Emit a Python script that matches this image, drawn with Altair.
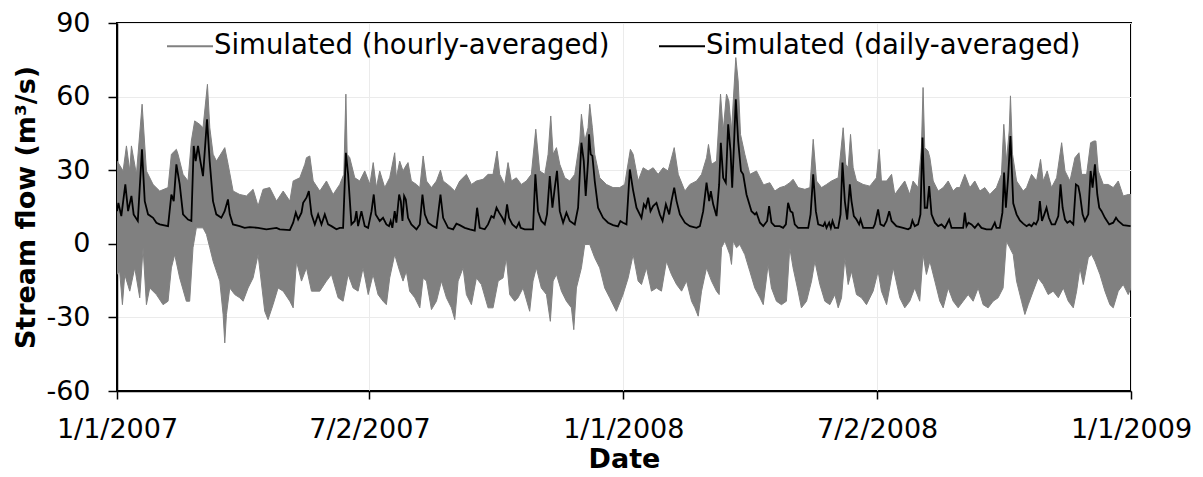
import altair as alt
import pandas as pd

HOURLY = "Simulated (hourly-averaged)"
DAILY = "Simulated (daily-averaged)"

# ---- daily-averaged series (days after 1/1/2007, m3/s) ----
daily_days = [
    0, 1, 3.1, 6, 8, 10.4, 12, 15, 18, 20,
    22.4, 26, 28.4, 30.8, 36.8, 39.2, 40.9, 42.8, 45.2, 47.6,
    51.2, 53.6, 55.3, 56.7, 58.4, 60.1, 62, 64.9, 66.8, 69.2,
    71.6, 75.2, 77.6, 80, 81.3, 83.6, 88.4, 92, 95.7, 101.7,
    107.7, 115, 117.3, 124.6, 127, 128.9, 130.6, 133, 134.2, 136.6,
    138.3, 140.2, 142.6, 145, 147.4, 149.8, 152.2, 154.6, 158.2, 160.6,
    163, 165, 166.6, 169, 171.4, 172.6, 173.8, 176.2, 178.6, 181,
    183.5, 185.1, 186.5, 189.4, 191.8, 194.2, 196.1, 197.3, 198.5, 200.2,
    201.4, 203.4, 204.6, 205.8, 207, 208.2, 209.8, 212.2, 215.9, 218.3,
    220.2, 221.9, 224.3, 227.9, 230.3, 233.2, 235.1, 238.7, 242.3, 244.7,
    247.1, 250.7, 254.3, 257.9, 259.6, 261.5, 265.1, 267.5, 269.9, 271.6,
    273.6, 275.5, 277.8, 279.5, 281.2, 282.6, 285, 287.9, 289.8, 291,
    293.9, 297.5, 299.9, 301.6, 303.5, 305.9, 308.4, 310, 312, 313.9,
    315.6, 317.2, 319.2, 321.6, 324, 326.4, 330, 332.4, 334.8, 336.5,
    337.9, 339.6, 340.3, 341.5, 342.7, 344.4, 346.8, 350.4, 354, 357.6,
    361.2, 362.9, 364.8, 367.3, 369.7, 372, 374.5, 378.1, 379.8, 381.2,
    382.9, 384.6, 386.5, 388.9, 391.3, 393.3, 395.7, 398.1, 399.7, 401.7,
    403.4, 405.8, 409.4, 413, 417.8, 420.2, 422.6, 425, 426.9, 428.1,
    429.8, 432.2, 434.1, 435.3, 437, 438.9, 440.6, 442.3, 443.5, 444.7,
    446.1, 447.8, 449.8, 451.4, 453.8, 457.4, 459.9, 461, 463.5, 465.9,
    468.7, 470.1, 471.8, 474.2, 477.8, 480.2, 482.2, 483.8, 485.5, 487,
    488.6, 491, 494.7, 498.3, 500, 501.9, 503.8, 505.5, 509.1, 510.3,
    511.5, 513.4, 514.6, 515.8, 517.5, 519.9, 521.6, 523, 524.7, 526.4,
    528.3, 529.5, 531.2, 533.1, 535, 536, 537.9, 541.5, 545.1, 546.3,
    548.7, 550.4, 552.8, 554.8, 556.7, 558.4, 561.9, 566.7, 570.3, 572,
    573.4, 575.1, 577.5, 579.2, 580.7, 582.3, 584, 585.5, 587.2, 589.6,
    592, 594.4, 596.8, 599.9, 601.6, 605.2, 607.6, 610, 611.2, 612.4,
    613.8, 616, 618.4, 620.8, 623.2, 626.8, 630.4, 632.8, 634, 636.4,
    638.3, 639.5, 640.8, 642.4, 644.1, 646.1, 648.5, 650.9, 653.3, 655.7,
    657.6, 659.3, 661, 662.5, 664.1, 665.3, 666.8, 668.5, 670.1, 671.8,
    673.8, 676.2, 678.6, 680.2, 681.7, 683.4, 685.1, 687, 689.4, 691.3,
    693, 694.2, 696.1, 697.8, 700.2, 701.9, 703.3, 705, 706.7, 708.1,
    709.8, 712.2, 715.3, 718.2, 720.2, 721.8, 725.4, 730.7,
]
daily_flow = [
    13.3, 16.7, 11.3, 24.2, 13.3, 19.5, 12, 9.3, 38.5, 17.4,
    12, 10.6, 8.6, 7.9, 7.2, 20.1, 17.4, 32.4, 24.2, 12,
    9.9, 9.3, 39.9, 33.7, 39.9, 33.7, 27.6, 50.7, 33.7, 17.4,
    12, 10.6, 13.3, 18.1, 12, 7.9, 7.2, 6.5, 6.8, 6.5,
    5.9, 6.5, 5.9, 5.6, 8.6, 12.7, 9.9, 12.7, 16.7, 18.8,
    21.5, 12, 7.9, 12, 7.9, 12, 7.9, 7.2, 5.9, 6.5,
    6.5, 37.1, 28.3, 7.9, 9.3, 13.3, 7.2, 13.3, 7.2, 6.5,
    13.3, 20.1, 12, 9.3, 10.6, 7.9, 7.2, 9.3, 6.5, 13.3,
    8.6, 20.1, 17.4, 9.3, 19.5, 18.1, 10.6, 7.9, 5.9, 7.9,
    20.1, 12, 8.6, 7.2, 6.5, 20.1, 10.6, 6.5, 5.9, 8.2,
    7.6, 6.5, 5.9, 5.4, 14.7, 6.5, 5.9, 7.9, 11.3, 10.6,
    14.7, 12.7, 10.6, 8.6, 16.1, 10.6, 7.9, 6.5, 8.6, 6.5,
    5.9, 5.9, 5.9, 28.3, 13.3, 9.3, 7.9, 12, 27.6, 14.7,
    22.9, 29.7, 13.3, 8.6, 12.7, 9.3, 7.9, 14.7, 41.2, 33.7,
    19.5, 33.7, 44.6, 36.5, 35.8, 25.6, 14.7, 10.6, 8.6, 7.6,
    7.1, 9.3, 8.6, 7.9, 30.3, 22, 14.7, 10.6, 16.1, 14.7,
    18.8, 13.3, 15.4, 16.7, 12, 9.3, 16.1, 12, 17.4, 22.9,
    17.4, 12, 8.6, 7.2, 6.5, 7.2, 13.3, 24.9, 17.4, 21.5,
    16.1, 11.3, 24.2, 41.2, 26.9, 24.9, 48.7, 37.8, 22.9, 39.2,
    58.9, 41.9, 29.7, 28.3, 20.1, 13.3, 12, 12.7, 8.6, 7.2,
    9.3, 15.4, 8.6, 7.2, 7.2, 6.5, 7.9, 16.7, 13.3, 12.7,
    7.9, 6.5, 6.5, 6.5, 12, 28.3, 13.3, 7.9, 7.2, 8.6,
    6.5, 8.6, 6.5, 9.3, 6.5, 6.5, 12, 33.1, 17.4, 9.9,
    24.2, 17.4, 11.3, 9.9, 7.9, 9.9, 6.5, 6.5, 6.5, 7.9,
    14, 7.9, 7.2, 9.3, 13.3, 9.3, 7.2, 6.5, 5.9, 6.5,
    9.5, 7.2, 7.9, 12, 43.3, 14.7, 14.7, 23.5, 12, 8.6,
    7.2, 7.9, 6.5, 9.9, 6.5, 6.5, 6.5, 6.5, 12.7, 7.2,
    8.6, 7.9, 6.5, 8.2, 6.5, 5.9, 5.9, 8.6, 6.5, 6.5,
    12.7, 29, 14.7, 26.9, 43.9, 16.5, 12, 9.5, 8.2, 7.2,
    7.9, 7.2, 8.6, 7.9, 9.9, 17.4, 9.3, 12, 14.7, 10.6,
    7.9, 7.9, 11.3, 24.2, 14.7, 9.9, 8.6, 9.3, 7.9, 24.2,
    23.5, 20.1, 12, 9.3, 12, 29.7, 22.9, 32.4, 20.1, 14.7,
    13.3, 10.6, 7.9, 8.6, 10.6, 9.3, 7.6, 7.2,
]

# ---- hourly-averaged series: upper envelope ----
upper_days = [
    0, 0.75, 4.4, 6.8, 9.2, 10.4, 14, 18.1, 21.2, 26,
    30.8, 36.8, 39.2, 42.8, 44, 47.6, 51.2, 53.6, 56, 59.6,
    62, 65.2, 66.9, 69.3, 71.7, 77.7, 80.1, 83.7, 88.5, 93.3,
    98.1, 101.7, 105.3, 110.1, 115, 119.8, 124.6, 127, 131.8, 135.4,
    136.6, 139, 141.4, 146.2, 151, 155.8, 160.6, 163.5, 165, 165.9,
    167.8, 171.4, 175, 178.6, 182.3, 184.7, 187, 189.4, 193, 196.6,
    200.2, 201.4, 203.8, 206.2, 208.2, 209.8, 212.2, 215.9, 218.3, 220.7,
    223.1, 226.7, 230.3, 233.2, 235.1, 239.9, 243.5, 247.1, 251.9, 255.5,
    259.1, 263.9, 267.5, 271.1, 274, 275.9, 279.5, 281.9, 284.3, 287.9,
    291.5, 295.1, 298.7, 301.9, 304.7, 308.4, 310.8, 312.7, 314.4, 316.8,
    319.2, 322.8, 326.4, 330, 333.6, 334.8, 337.2, 339.6, 340.8, 342.7,
    344.4, 348, 352.8, 357.6, 362.4, 366, 370.1, 372.1, 375.7, 379.3,
    382.9, 386.5, 390.1, 393.7, 397.3, 401.7, 404.6, 409.4, 413, 417.8,
    421.4, 425, 426.4, 428.6, 432.2, 435.1, 437, 439.4, 441.1, 443,
    446.1, 447.8, 449.5, 452.6, 456.2, 461, 465.9, 467, 470.6, 474.2,
    477.8, 481.4, 485, 487.4, 491, 495.9, 499.5, 501.9, 504.3, 507.9,
    511.5, 515.1, 519.9, 523.5, 525.4, 527.1, 528.8, 530.7, 533.1, 537.9,
    542.7, 547.5, 549.5, 551.1, 554.8, 558.4, 560.7, 564.3, 567.9, 571.5,
    573.9, 577.5, 579.9, 581.1, 582.3, 584.7, 586, 588.4, 592, 595.6,
    599.2, 602.8, 605.2, 607.6, 611.2, 614.8, 618.4, 622, 625.6, 629.2,
    634, 637.6, 639.3, 641.2, 643.2, 644.1, 645.6, 648.5, 653.3, 655.7,
    659.3, 662.9, 665.8, 667.7, 670.6, 673.7, 677.4, 681, 683.4, 687,
    690.6, 693.5, 695.4, 699, 701.9, 704.3, 705.7, 707.4, 711, 714.6,
    718.2, 721.8, 725.4, 729, 731,
]
upper_flow = [
    33.7, 33.1, 29.7, 39.9, 29.7, 39.9, 28.3, 56.9, 29.7, 24.2,
    21.5, 22.9, 36.5, 38.5, 36.5, 28.3, 25.6, 41.9, 50.1, 48.7,
    47.3, 65, 47.3, 36.5, 33.7, 39.2, 32.4, 21.5, 20.1, 19.5,
    22.2, 15.4, 22.2, 22.9, 17.4, 21.5, 17.4, 25.6, 26.9, 32.4,
    35.1, 35.8, 25.6, 21.5, 25.6, 20.1, 24.2, 28.3, 61, 36.5,
    35.1, 26.9, 25.6, 29.7, 24.2, 33.1, 22.9, 29.7, 22.9, 26.9,
    37.1, 26.9, 33.7, 29.7, 31.7, 33.1, 25.6, 24.2, 22.9, 35.8,
    25.6, 22.9, 25.6, 30, 25.6, 23.5, 21.5, 25.6, 28.3, 24.2,
    25.6, 26.3, 28.3, 28.3, 37.8, 28.3, 24.2, 33.1, 25.6, 26.9,
    24.2, 25.6, 28.3, 46.7, 29.7, 28.3, 36.5, 52.1, 36.5, 39.2,
    32.4, 26.9, 25.6, 28.3, 41.9, 52.8, 41.9, 47.3, 56.9, 47.3,
    36.5, 26.9, 24.2, 22.9, 22.9, 24.2, 38.5, 36.5, 25.6, 31,
    29.7, 31, 28.3, 31, 29.7, 39.2, 28.3, 21.5, 24.2, 25.6,
    28.3, 35.1, 40.5, 32.4, 33.7, 61, 46, 61, 58.2, 46,
    75.9, 66.4, 44.6, 36.5, 28.3, 29.7, 24.2, 24.2, 24.9, 21.5,
    22.9, 23.5, 24.9, 26.3, 22.9, 22.2, 22.9, 42.6, 25.6, 22.9,
    24.2, 25.6, 26.9, 47.3, 32.4, 31, 44.6, 31, 25.6, 24.2,
    23.5, 26.9, 38.5, 25.6, 25.6, 28.3, 20.1, 22.9, 25.6, 20.1,
    25.6, 22.9, 39.2, 63.7, 39.2, 37.8, 35.1, 25.6, 21.5, 22.9,
    25.6, 21.5, 22.9, 22.9, 28.3, 22.9, 25.6, 21.5, 22.9, 20.1,
    22.9, 28.3, 48.7, 33.7, 46, 60.3, 36.5, 25.6, 21.5, 22.9,
    28.3, 25.6, 34.4, 25.6, 29.7, 22.9, 26.9, 41.2, 29.7, 25.6,
    35.1, 37.1, 28.3, 28.3, 41.2, 41.9, 41.9, 29.7, 24.2, 24.2,
    22.9, 25.6, 19.5, 20.1, 20.1,
]

# ---- hourly-averaged series: lower envelope ----
lower_days = [
    0, 1.9, 3.9, 5.6, 9.2, 12.8, 16.4, 18.8, 21.2, 23.6,
    28.4, 33.2, 36.8, 39.2, 41.6, 45.2, 50, 52.4, 54.8, 57.2,
    62, 64.5, 66.9, 69.3, 74.1, 76.5, 77.7, 78.9, 81.3, 84.9,
    88.5, 90.9, 94.5, 98.1, 101.7, 106.5, 108.9, 112.5, 116.1, 119.8,
    124.6, 127, 129.4, 133, 136.6, 140.2, 146.2, 151, 154.6, 159.4,
    163, 166.6, 170.2, 173.8, 177.4, 181.1, 184.6, 188.2, 191.8, 194.2,
    196.6, 200.2, 203.8, 206.2, 208.6, 211, 214.7, 218.3, 220.7, 223.1,
    226.7, 230.3, 233.9, 237.5, 241.1, 243.5, 245.9, 249.5, 251.9, 255.5,
    259.1, 262.7, 267.5, 271.1, 274.8, 278.3, 280.7, 283.1, 286.7, 289.1,
    292.7, 297.5, 299.9, 302.3, 305.9, 309.6, 312.4, 314.4, 316.8, 320.4,
    324, 327.6, 329.3, 331.2, 334.8, 337.2, 338.9, 340.8, 344.4, 348,
    351.6, 355.2, 360, 364.8, 368.5, 372.1, 375.7, 378.1, 381.7, 385.3,
    388.9, 392.5, 396.1, 399.7, 403.4, 407, 410.6, 414.2, 416.6, 419,
    421.4, 425, 428.6, 432.2, 434.1, 435.8, 438.2, 441.8, 443, 444.2,
    446.6, 449, 452.6, 456.2, 459.8, 463.5, 465.9, 469.4, 471.8, 475.4,
    479, 482.6, 485, 487.4, 491, 493.4, 497.1, 500.7, 503.1, 506.7,
    510.3, 513.9, 517.5, 519.9, 522.3, 524.7, 527.1, 529.5, 533.1, 536.7,
    540.3, 545.1, 548.7, 551.1, 554.8, 559.6, 564.3, 567.9, 571.5, 575.1,
    578.7, 581.1, 583.5, 586, 589.6, 593.2, 595.6, 599.2, 602.8, 606.4,
    610, 613.6, 617.2, 620.8, 624.4, 628, 631.6, 635.2, 638.8, 641.2,
    643.6, 646.1, 648.5, 652.1, 654.5, 656.9, 660.5, 664.1, 667.7, 671.3,
    674.9, 678.6, 682.2, 685.8, 689.4, 691.8, 694.2, 696.6, 700.2, 702.6,
    705, 708.6, 712.2, 715.8, 718.2, 721.8, 725.4, 729, 731,
]
lower_flow = [
    -12.5, -11.2, -24.8, -12.5, -19.3, -9.8, -22, -1.6, -24.8, -18,
    -20.7, -24.8, -23.4, -9.8, -4.4, -13.9, -23.4, -23.4, -1.6, 6.5,
    6.5, 3.8, -1.6, -7.1, -15.2, -28.8, -40.4, -28.8, -18, -20.7,
    -22, -23.4, -18, -13.9, -4.4, -27.5, -30.9, -24.8, -18, -19.3,
    -23.4, -26.1, -7.1, -15.2, -9.8, -19.3, -19.3, -15.2, -12.5, -22,
    -23.4, -12.5, -18, -19.3, -9.8, -20.7, -12.5, -20.7, -23.4, -24.8,
    -13.9, -4.4, -11.2, -15.2, -11.2, -19.3, -22, -26.1, -13.9, -15.2,
    -26.8, -23.4, -15.2, -22, -26.1, -30.9, -15.2, -9.8, -20.7, -24.8,
    -13.9, -16.6, -26.1, -26.1, -15.2, -13.9, -5.7, -20.7, -23.4, -22,
    -18, -27.5, -15.2, -9.8, -18, -20.7, -31.6, -15.2, -12.5, -19.3,
    -23.4, -26.1, -35, -18, -9.8, -0.3, -0.3, -0.3, -5.7, -9.8,
    -18, -22, -27.5, -20.7, -13.9, -4.4, -15.2, -16.6, -9.8, -19.3,
    -18, -19.3, -7.1, -12.5, -16.6, -19.3, -15.2, -23.4, -26.1, -29.5,
    -19.3, -9.8, -15.2, -19.3, -20.7, -1.6, 1.1, -4.4, -8.4, 1.1,
    -1.6, -0.3, -4.4, -11.2, -18, -22, -24.8, -8.4, -18, -23.4,
    -24.8, -23.4, -1.6, -9.8, -19.3, -26.1, -23.4, -15.2, -7.1, -16.6,
    -23.4, -24.8, -20.7, -26.1, -22, -5.7, -16.6, -11.2, -20.7, -22,
    -24.8, -19.3, -11.2, -19.3, -24.8, -9.8, -22, -26.1, -23.4, -18,
    -23.4, -4.4, -12.5, -7.1, -15.2, -23.4, -26.1, -18, -23.4, -26.1,
    -23.4, -20.7, -23.4, -18, -24.8, -26.1, -23.4, -22, -18, 1.1,
    -1.6, -4.4, -15.2, -23.4, -28.8, -24.8, -19.3, -13.9, -16.6, -20.7,
    -19.3, -22, -18, -23.4, -26.1, -19.3, -9.8, -16.6, -5.7, -4.4,
    -7.1, -12.5, -19.3, -24.8, -26.1, -19.3, -16.6, -20.7, -18,
]

x_ticks = [(2007, 1, 1), (2007, 7, 2), (2008, 1, 1), (2008, 7, 2), (2009, 1, 1)]
y_ticks = [-60, -30, 0, 30, 60, 90]

BASE = pd.Timestamp("2007-01-01")


def to_iso(days):
    return [(BASE + pd.Timedelta(days=float(d))).strftime("%Y-%m-%dT%H:%M:%SZ") for d in days]


daily_df = pd.DataFrame({"date": to_iso(daily_days), "flow": daily_flow})
daily_df["series"] = DAILY
up = pd.DataFrame({"date": to_iso(upper_days), "flow": upper_flow})
lo = pd.DataFrame({"date": to_iso(lower_days), "flow": lower_flow}).iloc[::-1]
band = pd.concat([up, lo], ignore_index=True)
band["order"] = list(range(len(band)))

FONT = "DejaVu Sans"
W, H = 1014, 368


def dt(t):
    return alt.DateTime(year=t[0], month=t[1], date=t[2], utc=True)


x_enc = alt.X(
    "date:T",
    scale=alt.Scale(type="utc", domain=[dt(x_ticks[0]), dt(x_ticks[-1])]),
    axis=alt.Axis(
        values=[dt(t) for t in x_ticks],
        format="%-m/%-d/%Y",
        title="Date",
        tickSize=8,
        labelPadding=17,
        labelFlush=False,
        labelOverlap=False,
        titleX=W / 2,
        titleY=68,
        titleBaseline="middle",
        titleAlign="center",
    ),
)
y_enc = alt.Y(
    "flow:Q",
    scale=alt.Scale(domain=[-60, 90], nice=False, zero=False),
    axis=alt.Axis(
        values=y_ticks,
        labelExpr="'' + datum.value",
        title="Stream flow (m³/s)",
        tickSize=9,
        labelPadding=18,
        titleAngle=270,
        titleX=-91,
        titleY=H / 2,
        titleAlign="center",
        titleBaseline="middle",
    ),
)

band_layer = alt.Chart(band).mark_line(
    fill="#808080", stroke="#808080", strokeWidth=1, fillOpacity=1, clip=True
).encode(x=x_enc, y=y_enc, order="order:Q")

daily_layer = alt.Chart(daily_df).mark_line(strokeWidth=1.8, clip=True).encode(
    x=x_enc,
    y=y_enc,
    color=alt.Color(
        "series:N",
        scale=alt.Scale(domain=[HOURLY, DAILY], range=["#808080", "#000000"]),
        legend=alt.Legend(
            title=None,
            orient="none",
            legendX=49,
            legendY=-1,
            direction="horizontal",
            symbolType="stroke",
            symbolSize=2116,
            symbolStrokeWidth=2,
            labelFontSize=27.5,
            labelFont=FONT,
            labelColor="#000000",
            labelOffset=0,
            columnPadding=45,
            labelLimit=1000,
            padding=0,
        ),
    ),
)

chart = (
    alt.layer(band_layer, daily_layer)
    .properties(
        width=W,
        height=H,
        autosize=alt.AutoSizeParams(type="none"),
        padding={"left": 117, "top": 23, "right": 72, "bottom": 86},
        background="white",
    )
    .configure_view(stroke="#000000", strokeWidth=2)
    .configure_axis(
        domainColor="#000000",
        domainWidth=1.5,
        tickColor="#000000",
        tickWidth=1.5,
        gridColor="#ebebeb",
        gridWidth=1,
        labelFont=FONT,
        labelFontSize=27,
        labelColor="#000000",
        titleFont=FONT,
        titleFontSize=27,
        titleFontWeight="bold",
        titleColor="#000000",
    )
)

chart.save("out.html", embed_options={"renderer": "svg", "actions": False})
